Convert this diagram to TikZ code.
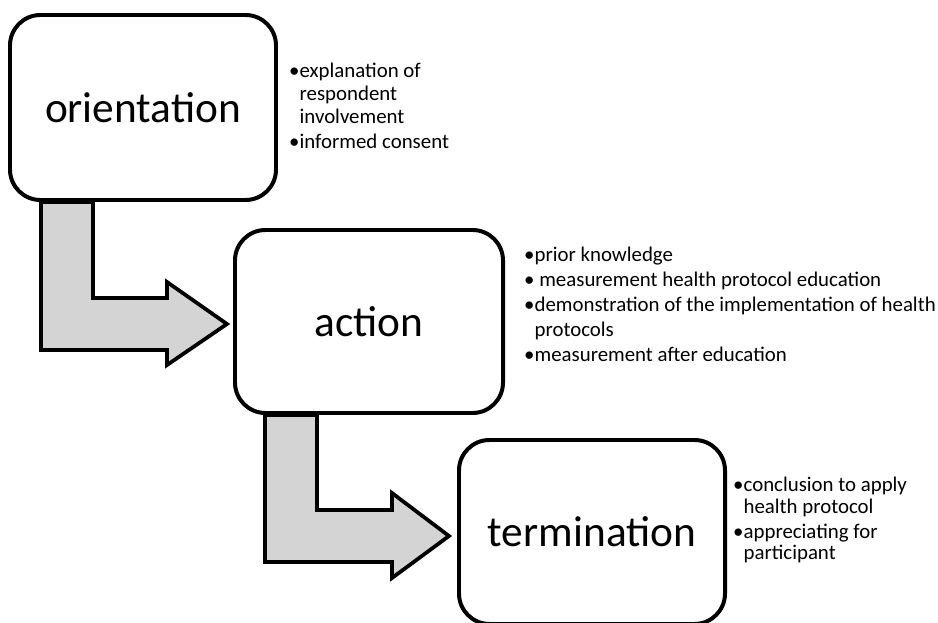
\documentclass[tikz,border=0pt]{standalone}
\usepackage{fontspec}
\setmainfont{Carlito}
\usetikzlibrary{backgrounds}

\tikzset{
  stagebox/.style={draw, line width=3.4pt, rounded corners=26pt, fill=white, inner sep=0pt,
    font=\fontsize{37}{40}\selectfont},
  bentarrow/.style={draw, line width=3.2pt, fill=black!17, line join=miter},
  notes/.style={anchor=base west, inner sep=0pt, align=left}
}

\begin{document}
\begin{tikzpicture}[x=0.03cm, y=-0.03cm]
                \useasboundingbox (0,0) rectangle (938,623);
                % the three stages
                \node [stagebox, minimum width=7.98cm, minimum height=5.55cm] (orient) at (143, 107.5) {orientation};
                \node [stagebox, minimum width=8.04cm, minimum height=5.49cm] (act) at (369, 321.5) {action};
                \node [stagebox, minimum width=7.98cm, minimum height=5.52cm] (term) at (592, 532) {termination};
                % bent block arrows behind the boxes
                \begin{scope}[on background layer]
                \draw [bentarrow] (orient.south -| 41,0) |- (167,350) -- (167,365) -- (227,324) -- (167,282) -- (167,298) -| (orient.south -| 93,0) -- cycle;
                \draw [bentarrow] (act.south -| 265,0) |- (392,562) -- (392,578) -- (449,536) -- (392,493) -- (392,510) -| (act.south -| 317,0) -- cycle;
                \end{scope}
                % bullet notes
                \node [notes, font=\fontsize{17.8}{19.3}\selectfont] (orientnotes) at (289, 78)
                  {\begin{tabular}[t]{@{}l@{}l@{}}
                   \textbullet & explanation of\\ & respondent\\ & involvement\\[2.1pt]
                   \textbullet & informed consent
                   \end{tabular}};
                \node [notes, font=\fontsize{17.8}{21.3}\selectfont] (actnotes) at (524, 262)
                  {\begin{tabular}[t]{@{}l@{}l@{}}
                   \textbullet & prior knowledge\\
                   \textbullet & \ measurement health protocol education\\
                   \textbullet & demonstration of the implementation of health\\ & protocols\\
                   \textbullet & measurement after education
                   \end{tabular}};
                \node [notes, font=\fontsize{17.8}{18.5}\selectfont] (termnotes) at (733, 492)
                  {\begin{tabular}[t]{@{}l@{}l@{}}
                   \textbullet & conclusion to apply\\ & health protocol\\[2.5pt]
                   \textbullet & appreciating for\\ & participant
                   \end{tabular}};
            \end{tikzpicture}
\end{document}
